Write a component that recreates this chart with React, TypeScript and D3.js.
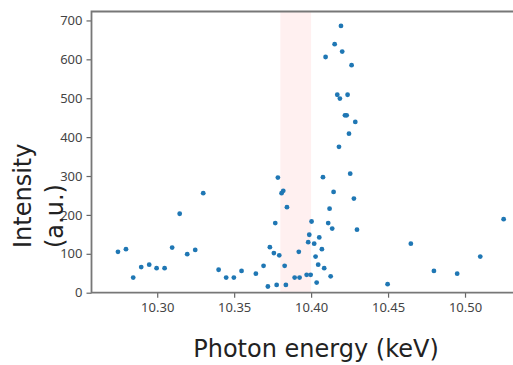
import React, { useEffect, useRef } from "react";
import * as d3 from "d3";

// photon energy (keV) and intensity (a.u.)
const energy = [
  10.2745, 10.2797, 10.2844, 10.2896, 10.2948, 10.2996, 10.3048, 10.3097, 10.3146, 10.3195,
  10.3247, 10.3299, 10.3399, 10.3448, 10.3498, 10.3548, 10.3641, 10.3691, 10.3719, 10.3732,
  10.3758, 10.3767, 10.3776, 10.3784, 10.3793, 10.3808, 10.3819, 10.3828, 10.3836, 10.3843,
  10.3893, 10.392, 10.3925, 10.3971, 10.3997, 10.3981, 10.3988, 10.4003, 10.402, 10.4029,
  10.4036, 10.4046, 10.4053, 10.407, 10.4085, 10.4077, 10.4094, 10.4111, 10.412, 10.4127,
  10.4137, 10.4146, 10.4153, 10.417, 10.4181, 10.4187, 10.4194, 10.4202, 10.422, 10.4231,
  10.4237, 10.4246, 10.4254, 10.4263, 10.4278, 10.4287, 10.4298, 10.4497, 10.4648, 10.4798,
  10.4949, 10.5099, 10.5251,
];
const intensity = [
  105, 112, 39, 66, 72, 63, 63, 116, 203, 99,
  110, 256, 59, 39, 39, 56, 49, 69, 16, 117,
  102, 179, 20, 296, 96, 256, 262, 69, 20, 220,
  39, 105, 39, 46, 46, 130, 149, 183, 126, 93,
  26, 72, 142, 112, 63, 297, 606, 179, 216, 42,
  165, 259, 639, 509, 375, 499, 686, 620, 456, 456,
  509, 409, 306, 585, 242, 439, 162, 22, 126, 56,
  49, 93, 189,
];
const band = [10.38, 10.4];
const xTicks = [10.3, 10.35, 10.4, 10.45, 10.5];
const yTicks = [0, 100, 200, 300, 400, 500, 600, 700];
const yLabelLines = ["Intensity", "(a.u.)"];
const xLabel = "Photon energy (keV)";

const W = 513;
const H = 365;

export default function App() {
  const ref = useRef<SVGSVGElement>(null);

  useEffect(() => {
    const svg = d3.select(ref.current);
    svg.selectAll("*").remove();

    const left = 91.5, top = 11.5, bottom = 292.7;
    const x = d3.scaleLinear().domain([10.2573, 10.54]).range([left, left + 0.2827 * 1539]);
    const y = d3.scaleLinear().domain([0, 723]).range([bottom, top]);

    // shaded energy window
    svg.append("rect")
      .attr("x", x(band[0]))
      .attr("y", top)
      .attr("width", x(band[1]) - x(band[0]))
      .attr("height", bottom - top)
      .attr("fill", "#ff0000")
      .attr("fill-opacity", 0.06);

    // points
    svg.append("g")
      .selectAll("circle")
      .data(energy.map((e, i) => ({ e, v: intensity[i] })))
      .join("circle")
      .attr("cx", d => x(d.e))
      .attr("cy", d => y(d.v))
      .attr("r", 2.4)
      .attr("fill", "#1f77b4");

    const xAxis = svg.append("g")
      .attr("transform", `translate(0,${bottom})`)
      .call(d3.axisBottom(x).tickValues(xTicks).tickFormat(d3.format(".2f")).tickSize(5).tickPadding(5));
    const yAxis = svg.append("g")
      .attr("transform", `translate(${left},0)`)
      .call(d3.axisLeft(y).tickValues(yTicks).tickSize(5).tickPadding(4));

    [xAxis, yAxis].forEach(a => {
      a.select(".domain").remove();
      a.selectAll("line").attr("stroke", "#666").attr("stroke-width", 1.2);
      a.selectAll("text")
        .attr("fill", "#444")
        .attr("font-family", "'Noto Sans', sans-serif")
        .attr("font-size", 13);
    });

    // spines (right one falls outside the crop)
    svg.append("path")
      .attr("d", `M${x.range()[1]},${top}H${left}V${bottom}H${x.range()[1]}`)
      .attr("fill", "none")
      .attr("stroke", "#777")
      .attr("stroke-width", 1.8);

    svg.append("text")
      .attr("x", 316)
      .attr("y", 357)
      .attr("text-anchor", "middle")
      .attr("font-family", "'DejaVu Sans', sans-serif")
      .attr("font-size", 24)
      .attr("fill", "#222")
      .text(xLabel);

    const yl = svg.append("text")
      .attr("transform", "translate(31,248) rotate(-90)")
      .attr("font-family", "'DejaVu Sans', sans-serif")
      .attr("font-size", 24)
      .attr("fill", "#222");
    yLabelLines.forEach((t, i) => {
      yl.append("tspan").attr("x", 0).attr("y", i * 32).text(t);
    });
  }, []);

  return (
    <svg
      ref={ref}
      width={W}
      height={H}
      style={{ position: "absolute", left: 0, top: 0, background: "#fff" }}
    />
  );
}
